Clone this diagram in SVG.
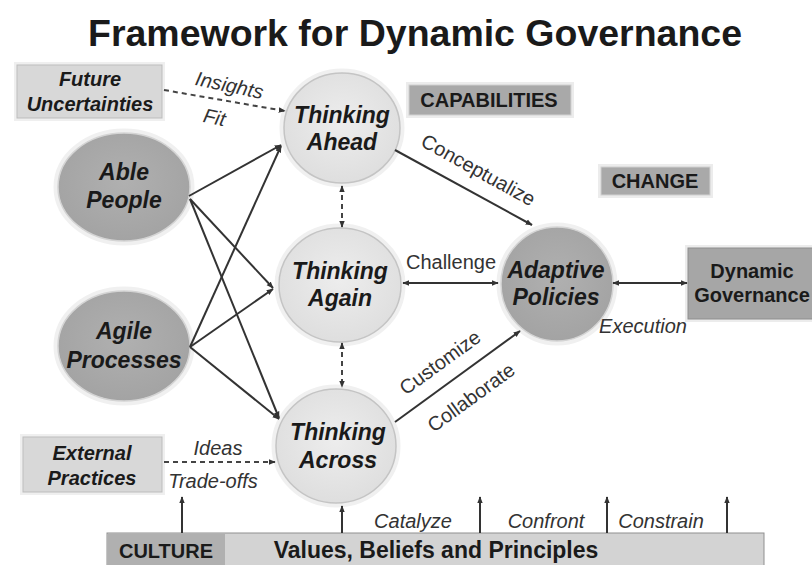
<svg xmlns="http://www.w3.org/2000/svg" width="812" height="565" viewBox="0 0 812 565">
<defs>
<marker id="ah" viewBox="0 0 10 10" refX="9" refY="5" markerWidth="7" markerHeight="7" orient="auto-start-reverse" markerUnits="userSpaceOnUse">
<path d="M0,1 L10,5 L0,9 Z" fill="#333"/>
</marker>
<radialGradient id="light" cx="50%" cy="45%" r="60%">
<stop offset="0" stop-color="#ededed"/><stop offset="1" stop-color="#dddddd"/>
</radialGradient>
<radialGradient id="dark" cx="50%" cy="45%" r="60%">
<stop offset="0" stop-color="#b0b0b0"/><stop offset="1" stop-color="#a2a2a2"/>
</radialGradient>
</defs>
<style>
text{font-family:"Liberation Sans",Arial,sans-serif;fill:#1a1a1a}
.title{font-size:36px;font-weight:bold}
.nl{font-size:23px;font-weight:bold;font-style:italic;text-anchor:middle}
.bl{font-size:20px;font-weight:bold;font-style:italic;text-anchor:middle}
.cap{font-size:20px;font-weight:bold;text-anchor:middle}
.el{font-size:20px;font-style:italic;text-anchor:middle;fill:#333}
.er{font-size:20px;text-anchor:middle;fill:#333}
.lc{fill:url(#light);stroke:#c4c4c4;stroke-width:1.5}
.dc{fill:url(#dark);stroke:#d4d4d4;stroke-width:1.5}
.halo{fill:none;stroke:#f0f0f0;stroke-width:5}
.sol{stroke:#333;stroke-width:2;fill:none}
.dsh{stroke:#444;stroke-width:2;fill:none;stroke-dasharray:5,4}
</style>
<rect width="812" height="565" fill="#fff"/>
<text class="title" x="415" y="46" text-anchor="middle" textLength="654" lengthAdjust="spacingAndGlyphs">Framework for Dynamic Governance</text>

<g id="future-uncertainties">
<rect x="14" y="62" width="151" height="59" fill="#efefef"/>
<rect x="17" y="65" width="145" height="53" fill="#d8d8d8" stroke="#bdbdbd" stroke-width="1"/>
<text class="bl" x="90" y="86">Future</text>
<text class="bl" x="90" y="111">Uncertainties</text>
</g>
<g id="external-practices">
<rect x="20" y="434" width="145" height="61" fill="#efefef"/>
<rect x="23" y="437" width="139" height="55" fill="#d8d8d8" stroke="#bdbdbd" stroke-width="1"/>
<text class="bl" x="92" y="460">External</text>
<text class="bl" x="92" y="485">Practices</text>
</g>
<g id="able-people">
<ellipse class="halo" cx="124" cy="187" rx="68" ry="56"/>
<ellipse class="dc" cx="124" cy="187" rx="66" ry="54"/>
<text class="nl" x="124" y="180">Able</text>
<text class="nl" x="124" y="208">People</text>
</g>
<g id="agile-processes">
<ellipse class="halo" cx="124" cy="346" rx="68" ry="57"/>
<ellipse class="dc" cx="124" cy="346" rx="66" ry="55"/>
<text class="nl" x="124" y="339">Agile</text>
<text class="nl" x="124" y="368">Processes</text>
</g>
<g id="thinking-ahead">
<ellipse class="halo" cx="342" cy="128" rx="60" ry="57"/>
<ellipse class="lc" cx="342" cy="128" rx="58" ry="55"/>
<text class="nl" x="342" y="123">Thinking</text>
<text class="nl" x="342" y="150">Ahead</text>
</g>
<g id="thinking-again">
<ellipse class="halo" cx="340" cy="285" rx="63" ry="59"/>
<ellipse class="lc" cx="340" cy="285" rx="61" ry="57"/>
<text class="nl" x="340" y="279">Thinking</text>
<text class="nl" x="340" y="306">Again</text>
</g>
<g id="thinking-across">
<ellipse class="halo" cx="336" cy="446" rx="62" ry="59"/>
<ellipse class="lc" cx="336" cy="446" rx="60" ry="57"/>
<text class="nl" x="338" y="440">Thinking</text>
<text class="nl" x="338" y="468">Across</text>
</g>
<g id="adaptive-policies">
<ellipse class="halo" cx="557" cy="284" rx="58" ry="59"/>
<ellipse class="dc" cx="557" cy="284" rx="56" ry="57"/>
<text class="nl" x="556" y="278">Adaptive</text>
<text class="nl" x="556" y="305">Policies</text>
</g>
<g id="dynamic-governance">
<rect x="685" y="245" width="130" height="77" fill="#ececec"/>
<rect x="688" y="248" width="126" height="71" fill="#a6a6a6" stroke="#8e8e8e" stroke-width="1"/>
<text class="cap" x="752" y="278">Dynamic</text>
<text class="cap" x="752" y="302">Governance</text>
</g>
<g id="capabilities">
<rect x="406" y="82" width="168" height="36" fill="#ececec"/>
<rect x="409" y="85" width="162" height="30" fill="#a9a9a9" stroke="#d0d0d0" stroke-width="1"/>
<text class="cap" x="489" y="107">CAPABILITIES</text>
</g>
<g id="change">
<rect x="598" y="164" width="115" height="34" fill="#ececec"/>
<rect x="601" y="167" width="109" height="28" fill="#a9a9a9" stroke="#d0d0d0" stroke-width="1"/>
<text class="cap" x="655" y="188">CHANGE</text>
</g>
<g id="culture">
<rect x="107" y="533" width="657" height="34" fill="#d3d3d3" stroke="#8f8f8f" stroke-width="1"/>
<rect x="108" y="534" width="117" height="32" fill="#b0b0b0"/>
<text class="cap" x="166" y="558">CULTURE</text>
<text class="cap" x="436" y="558" style="font-size:23px">Values, Beliefs and Principles</text>
</g>

<g id="connectors">
<line class="dsh" x1="164" y1="90" x2="285" y2="111" marker-end="url(#ah)"/>
<line class="dsh" x1="164" y1="462" x2="275" y2="462" marker-end="url(#ah)"/>
<line class="dsh" x1="342" y1="186" x2="342" y2="227" marker-start="url(#ah)" marker-end="url(#ah)"/>
<line class="dsh" x1="342" y1="343" x2="342" y2="387" marker-start="url(#ah)" marker-end="url(#ah)"/>

<line class="sol" x1="189" y1="196" x2="281" y2="145" marker-end="url(#ah)"/>
<line class="sol" x1="190" y1="199" x2="273" y2="288" marker-end="url(#ah)"/>
<line class="sol" x1="190" y1="199" x2="279" y2="418" marker-end="url(#ah)"/>
<line class="sol" x1="190" y1="347" x2="281" y2="146" marker-end="url(#ah)"/>
<line class="sol" x1="190" y1="347" x2="273" y2="289" marker-end="url(#ah)"/>
<line class="sol" x1="190" y1="347" x2="279" y2="419" marker-end="url(#ah)"/>

<line class="sol" x1="395" y1="150" x2="532" y2="225" marker-end="url(#ah)"/>
<line class="sol" x1="403" y1="283" x2="498" y2="283" marker-start="url(#ah)" marker-end="url(#ah)"/>
<line class="sol" x1="395" y1="422" x2="520" y2="331" marker-end="url(#ah)"/>
<line class="sol" x1="613" y1="283" x2="687" y2="283" marker-start="url(#ah)" marker-end="url(#ah)"/>

<line class="sol" x1="182" y1="533" x2="182" y2="497" marker-end="url(#ah)"/>
<line class="sol" x1="342" y1="533" x2="342" y2="506" marker-end="url(#ah)"/>
<line class="sol" x1="480" y1="533" x2="480" y2="497" marker-end="url(#ah)"/>
<line class="sol" x1="607" y1="533" x2="607" y2="497" marker-end="url(#ah)"/>
<line class="sol" x1="727" y1="533" x2="727" y2="497" marker-end="url(#ah)"/>

<text class="el" transform="translate(228,92) rotate(12)">Insights</text>
<text class="el" transform="translate(213,124) rotate(12)">Fit</text>
<text class="el" x="218" y="455">Ideas</text>
<text class="el" x="213" y="488">Trade-offs</text>
<text class="er" transform="translate(475,176) rotate(29)">Conceptualize</text>
<text class="er" x="451" y="269">Challenge</text>
<text class="er" transform="translate(444,368) rotate(-36)">Customize</text>
<text class="er" transform="translate(475,403) rotate(-36)">Collaborate</text>
<text class="el" x="643" y="333">Execution</text>
<text class="el" x="413" y="528">Catalyze</text>
<text class="el" x="546" y="528">Confront</text>
<text class="el" x="661" y="528">Constrain</text>
</g>
</svg>
